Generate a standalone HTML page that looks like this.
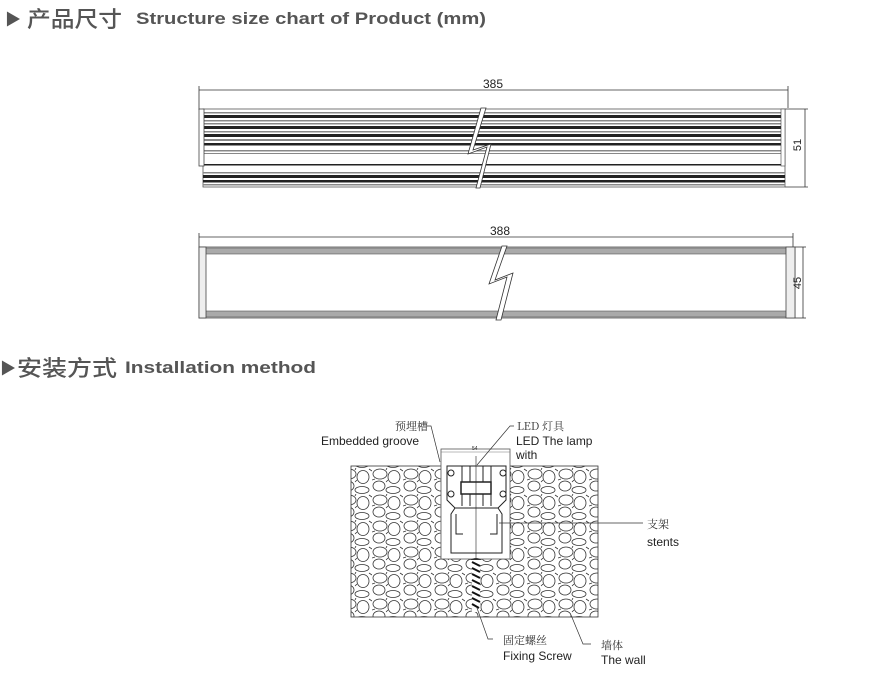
<!DOCTYPE html>
<html><head><meta charset="utf-8"><style>
html,body{margin:0;padding:0;background:#fff;width:895px;height:680px;overflow:hidden}
svg{display:block}
.h{font-family:"Liberation Sans","Noto Sans CJK SC",sans-serif;font-weight:bold;fill:#555}
.hc{font-family:"Noto Sans CJK SC",sans-serif;font-weight:500;fill:#555}
.t{font-family:"Liberation Sans","Noto Sans CJK SC",sans-serif;fill:#222}
.c{font-family:"Noto Serif CJK SC","Noto Sans CJK SC",serif;fill:#333}
</style></head><body>
<svg width="895" height="680" viewBox="0 0 895 680" xmlns="http://www.w3.org/2000/svg">
<defs>
<pattern id="stone" width="31" height="26" patternUnits="userSpaceOnUse">
<rect width="31" height="26" fill="#fff"/>
<g fill="none" stroke="#333" stroke-width="0.8">
<ellipse cx="8" cy="6" rx="7" ry="5"/>
<ellipse cx="22" cy="9" rx="6" ry="6.5"/>
<ellipse cx="7" cy="18" rx="6" ry="5"/>
<ellipse cx="21" cy="22" rx="7" ry="3.5"/>
<path d="M0 12 L3 11 M28 1 L31 3 M14 14 L16 12 M14 2 L15 0"/>
</g>
</pattern>
</defs>

<!-- headers -->
<text x="5" y="25" class="h" font-size="16">▶</text>
<text x="27" y="27" class="hc" font-size="22" textLength="95" lengthAdjust="spacingAndGlyphs">产品尺寸</text>
<text x="136" y="24" class="h" font-size="17" textLength="350" lengthAdjust="spacingAndGlyphs">Structure size chart of Product (mm)</text>
<text x="0" y="374" class="h" font-size="16">▶</text>
<text x="17" y="376" class="hc" font-size="22" textLength="100" lengthAdjust="spacingAndGlyphs">安装方式</text>
<text x="125" y="373" class="h" font-size="17" textLength="191" lengthAdjust="spacingAndGlyphs">Installation method</text>

<!-- product 1 -->
<g stroke="#333" stroke-width="0.8" fill="none">
<line x1="199" y1="90" x2="788" y2="90"/>
<line x1="199" y1="86" x2="199" y2="110"/>
<line x1="788" y1="86" x2="788" y2="108"/>
<line x1="785" y1="109" x2="808" y2="109"/>
<line x1="785" y1="187" x2="808" y2="187"/>
<line x1="805" y1="109" x2="805" y2="187"/>
</g>
<text x="483" y="88" class="t" font-size="12">385</text>
<g>
<rect x="203" y="109" width="582" height="78" fill="#fff" stroke="#555" stroke-width="0.8"/>
<g fill="#888"><rect x="203" y="112" width="582" height="1.5"/><rect x="203" y="120" width="582" height="1.5"/><rect x="203" y="123" width="582" height="1.5"/><rect x="203" y="131" width="582" height="1.5"/><rect x="203" y="139" width="582" height="2"/><rect x="203" y="150" width="582" height="1.5"/><rect x="203" y="153" width="582" height="1"/><rect x="203" y="172" width="582" height="1.5"/><rect x="203" y="184" width="582" height="1.5"/></g>
<g fill="#222"><rect x="203" y="115" width="582" height="3"/><rect x="203" y="126" width="582" height="3"/><rect x="203" y="134" width="582" height="3"/><rect x="203" y="143" width="582" height="2.5"/><rect x="203" y="164" width="582" height="1.5"/><rect x="203" y="175" width="582" height="3"/><rect x="203" y="180" width="582" height="2.5"/></g>
<rect x="199" y="109" width="5" height="57" fill="#fff" stroke="#444" stroke-width="0.8"/>
<rect x="781" y="109" width="4" height="57" fill="#fff" stroke="#444" stroke-width="0.6"/>
<polygon points="481,108 468,154 487,147 476,188 480,188 491,144 473,150 486,108" fill="#fff" stroke="#333" stroke-width="0.8"/>
</g>
<text transform="translate(801,145) rotate(-90)" class="t" font-size="11" text-anchor="middle">51</text>

<!-- product 2 -->
<g stroke="#333" stroke-width="0.8" fill="none">
<line x1="199" y1="237" x2="793" y2="237"/>
<line x1="199" y1="233" x2="199" y2="248"/>
<line x1="793" y1="233" x2="793" y2="247"/>
<line x1="795" y1="247" x2="806" y2="247"/>
<line x1="795" y1="318" x2="806" y2="318"/>
<line x1="803" y1="247" x2="803" y2="318"/>
</g>
<text x="490" y="235" class="t" font-size="12">388</text>
<rect x="199" y="247" width="596" height="71" fill="#fff" stroke="#555" stroke-width="0.8"/>
<rect x="205" y="248" width="582" height="6" fill="#aaa" stroke="#555" stroke-width="0.6"/>
<rect x="205" y="311" width="582" height="6" fill="#aaa" stroke="#555" stroke-width="0.6"/>
<rect x="199" y="247" width="7" height="71" fill="#eee" stroke="#444" stroke-width="0.8"/>
<rect x="786" y="247" width="9" height="71" fill="#eee" stroke="#444" stroke-width="0.8"/>
<polygon points="502,246 489,284 507,277 496,320 501,320 513,273 495,280 507,246" fill="#fff" stroke="#333" stroke-width="0.8"/>
<text transform="translate(801,283) rotate(-90)" class="t" font-size="11" text-anchor="middle">45</text>

<!-- installation -->
<rect x="351" y="466" width="247" height="151" fill="url(#stone)" stroke="#333" stroke-width="0.8"/>
<rect x="441" y="449" width="69" height="110" fill="#fff" stroke="#555" stroke-width="0.8"/>
<line x1="441" y1="452" x2="510" y2="452" stroke="#777" stroke-width="0.5"/>
<text x="472" y="450" class="t" font-size="5">54</text>
<g stroke="#222" stroke-width="1" fill="none">
<path d="M447 466 H506 V500 L498 508 H455 L447 500 Z" fill="#fff"/>
<line x1="462" y1="466" x2="462" y2="506"/><line x1="491" y1="466" x2="491" y2="506"/>
<line x1="470" y1="466" x2="470" y2="506"/><line x1="483" y1="466" x2="483" y2="506"/>
<rect x="461" y="482" width="30" height="12" fill="#fff" stroke-width="1.5"/>
<circle cx="451" cy="473" r="3"/><circle cx="503" cy="473" r="3"/>
<circle cx="451" cy="494" r="3"/><circle cx="503" cy="494" r="3"/>
<path d="M455 508 L451 514 V553 H502 V514 L498 508"/>
<path d="M456 514 V534 H463 M497 514 V534 H490"/>
<line x1="476" y1="456" x2="476" y2="558" stroke-width="0.6"/>
</g>
<path d="M470 560 Q476 556 482 560 Z" fill="#333"/>
<rect x="472" y="560" width="8" height="52" fill="#fff"/>
<path d="M472 562 L480 566 M472 568 L480 572 M472 574 L480 578 M472 580 L480 584 M472 586 L480 590 M472 592 L480 596 M472 598 L480 602 M472 604 L479 608" stroke="#111" stroke-width="2"/>

<!-- leaders -->
<g stroke="#333" stroke-width="0.7" fill="none">
<path d="M427 426 H431 L440 462"/>
<path d="M514 426 H510 L477 465"/>
<path d="M499 523 H643"/>
<path d="M477 608 L488 639 H493"/>
<path d="M571 615 L583 644 H591"/>
</g>
<text x="395" y="430" class="c" font-size="11">预埋槽</text>
<text x="321" y="445" class="t" font-size="12">Embedded groove</text>
<text x="517" y="430" class="c" font-size="11">LED 灯具</text>
<text x="516" y="445" class="t" font-size="12">LED The lamp</text>
<text x="516" y="459" class="t" font-size="12">with</text>
<text x="647" y="528" class="c" font-size="11">支架</text>
<text x="647" y="546" class="t" font-size="12">stents</text>
<text x="503" y="644" class="c" font-size="11">固定螺丝</text>
<text x="503" y="660" class="t" font-size="12">Fixing Screw</text>
<text x="601" y="649" class="c" font-size="11">墙体</text>
<text x="601" y="664" class="t" font-size="12">The wall</text>
</svg>
</body></html>
